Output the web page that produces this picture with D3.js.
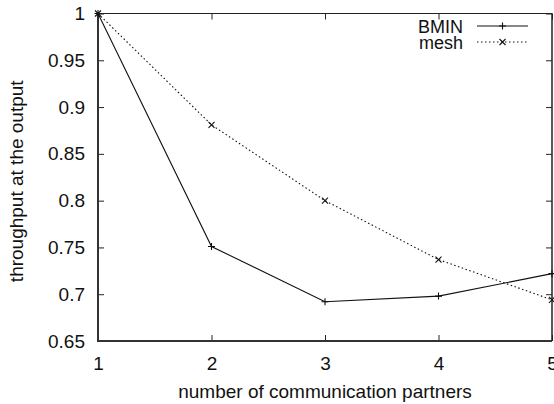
<!DOCTYPE html>
<html>
<head>
<meta charset="utf-8">
<script src="https://cdn.jsdelivr.net/npm/d3@7"></script>
<style>
  html, body { margin: 0; padding: 0; background: #fff; }
  svg { display: block; }
  text { font-family: "Liberation Sans", Arial, Helvetica, sans-serif; fill: #111; }
</style>
</head>
<body>
<svg id="chart" width="554" height="404"></svg>
<script>
// Throughput vs. number of communication partners
const partners = [1, 2, 3, 4, 5];
const bminThroughput = [1.0, 0.751, 0.692, 0.698, 0.722];
const meshThroughput = [1.0, 0.881, 0.800, 0.737, 0.694];
const yTickValues = [0.65, 0.7, 0.75, 0.8, 0.85, 0.9, 0.95, 1];
const xTickValues = [1, 2, 3, 4, 5];
const seriesNames = ["BMIN", "mesh"];
const xTitle = "number of communication partners";
const yTitle = "throughput at the output";

const plot = { left: 98, right: 552, top: 13.5, bottom: 341 };
const fontSize = 19;

const svg = d3.select("#chart");

const x = d3.scaleLinear().domain([1, 5]).range([plot.left, plot.right]);
const y = d3.scaleLinear().domain([0.65, 1]).range([plot.bottom, plot.top]);

const fmt = d => String(+d.toFixed(2));

// tick marks point inward on all four sides
const tickLen = 6;

const gLeft = svg.append("g").attr("transform", `translate(${plot.left},0)`)
  .call(d3.axisLeft(y).tickValues(yTickValues).tickFormat(fmt)
        .tickSize(-tickLen).tickPadding(13));
const gBottom = svg.append("g").attr("transform", `translate(0,${plot.bottom})`)
  .call(d3.axisBottom(x).tickValues(xTickValues).tickFormat(d3.format("d"))
        .tickSize(-tickLen).tickPadding(16));
const gTop = svg.append("g").attr("transform", `translate(0,${plot.top})`)
  .call(d3.axisTop(x).tickValues(xTickValues).tickFormat("").tickSize(-tickLen));
const gRight = svg.append("g").attr("transform", `translate(${plot.right},0)`)
  .call(d3.axisRight(y).tickValues(yTickValues).tickFormat("").tickSize(-tickLen));

[gLeft, gBottom, gTop, gRight].forEach(g => {
  g.select(".domain").remove();
  g.selectAll(".tick line").attr("stroke", "#222").attr("stroke-width", 1);
  g.selectAll(".tick text")
    .attr("font-size", fontSize)
    .attr("font-family", "Liberation Sans, Arial, sans-serif")
    .attr("fill", "#111");
});

// frame
svg.append("line").attr("x1", plot.left).attr("x2", plot.right)
  .attr("y1", plot.top).attr("y2", plot.top)
  .attr("stroke", "#222").attr("stroke-width", 1.2);
svg.append("line").attr("x1", plot.right).attr("x2", plot.right)
  .attr("y1", plot.top).attr("y2", plot.bottom)
  .attr("stroke", "#222").attr("stroke-width", 1.5);
svg.append("line").attr("x1", plot.left).attr("x2", plot.right)
  .attr("y1", plot.bottom).attr("y2", plot.bottom)
  .attr("stroke", "#333").attr("stroke-width", 2);
svg.append("line").attr("x1", plot.left).attr("x2", plot.left)
  .attr("y1", plot.top).attr("y2", plot.bottom + 1)
  .attr("stroke", "#333").attr("stroke-width", 2);

// axis titles
svg.append("text")
  .attr("x", (plot.left + plot.right) / 2).attr("y", 398)
  .attr("text-anchor", "middle").attr("font-size", fontSize)
  .text(xTitle);
svg.append("text")
  .attr("transform", `translate(23,${(plot.top + plot.bottom) / 2 + 4}) rotate(-90)`)
  .attr("text-anchor", "middle").attr("font-size", fontSize)
  .text(yTitle);

// series
const series = [
  { name: seriesNames[0], values: bminThroughput, dash: null, marker: "plus" },
  { name: seriesNames[1], values: meshThroughput, dash: "1.5,2.5", marker: "cross" }
];

const line = d3.line().x(d => x(d[0])).y(d => y(d[1]));

function drawMarker(g, cx, cy, type) {
  const s = type === "plus" ? 3.5 : 3;
  const p = type === "plus"
    ? `M${cx - s},${cy}H${cx + s}M${cx},${cy - s}V${cy + s}`
    : `M${cx - s},${cy - s}L${cx + s},${cy + s}M${cx - s},${cy + s}L${cx + s},${cy - s}`;
  g.append("path").attr("d", p).attr("stroke", "#111").attr("stroke-width", 1.1).attr("fill", "none");
}

series.forEach(s => {
  const pts = partners.map((p, i) => [p, s.values[i]]);
  const g = svg.append("g");
  g.append("path").attr("d", line(pts))
    .attr("fill", "none").attr("stroke", "#111").attr("stroke-width", 1.1)
    .attr("stroke-dasharray", s.dash);
  pts.forEach(d => drawMarker(g, x(d[0]), y(d[1]), s.marker));
});

// legend
const legend = { textRight: 463, lineX1: 477, lineX2: 528, rows: [26, 42], fontSize: 18 };
series.forEach((s, i) => {
  const ly = legend.rows[i];
  svg.append("text").attr("x", legend.textRight).attr("y", ly + 6.5)
    .attr("text-anchor", "end").attr("font-size", legend.fontSize).text(s.name);
  svg.append("line").attr("x1", legend.lineX1).attr("x2", legend.lineX2)
    .attr("y1", ly).attr("y2", ly)
    .attr("stroke", "#111").attr("stroke-width", 1.1).attr("stroke-dasharray", s.dash);
  drawMarker(svg, (legend.lineX1 + legend.lineX2) / 2, ly, s.marker);
});
</script>
</body>
</html>
